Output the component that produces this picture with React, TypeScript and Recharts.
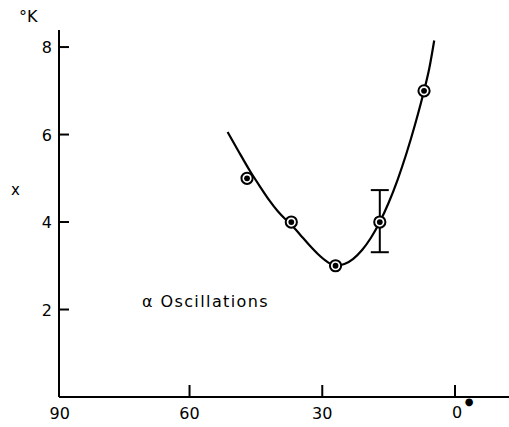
import React from "react";
import { ComposedChart, XAxis, YAxis, Line, Scatter, ErrorBar, Customized } from "recharts";

const xTicks = [90, 60, 30, 0];
const yTicks = [2, 4, 6, 8];

const pointX = [47, 37, 27, 17, 7];
const pointY = [5, 4, 3, 4, 7];

const errX = [17];
const errY = [4];
const errLow = [0.69];
const errHigh = [0.73];

const curveX = [51.4, 49, 46.3, 44, 42, 40, 38.5, 37, 35, 33, 31, 29, 27, 25, 23, 21, 19, 17, 15, 13, 11, 9, 7, 5.8, 4.7];
const curveY = [6.06, 5.63, 5.16, 4.8, 4.5, 4.24, 4.08, 3.94, 3.71, 3.48, 3.27, 3.1, 3.0, 3.04, 3.16, 3.36, 3.64, 4.0, 4.44, 4.96, 5.56, 6.24, 7.0, 7.52, 8.15];

const points = pointX.map((x, i) => ({ x, y: pointY[i] }));
const errPoints = errX.map((x, i) => ({ x, y: errY[i], err: [errLow[i], errHigh[i]] }));
const curve = curveX.map((x, i) => ({ x, y: curveY[i] }));

const FONT = "DejaVu Sans";

const XTick = (props: any) => {
  const { x, y, payload } = props;
  const v = payload.value;
  if (v === 0) {
    return (
      <g>
        <line x1={x} x2={x} y1={y} y2={y - 12} stroke="#000" strokeWidth={2} />
        <text x={x + 2} y={y + 21} textAnchor="middle" fontFamily={FONT} fontSize={16} fill="#000">
          0
        </text>
        <text x={x + 14} y={y + 8} textAnchor="middle" fontFamily={FONT} fontSize={10} fill="#000">
          ●
        </text>
      </g>
    );
  }
  return (
    <g>
      {v !== 90 && <line x1={x} x2={x} y1={y} y2={y - 12} stroke="#000" strokeWidth={2} />}
      <text x={v === 90 ? x + 3 : x} y={y + 22} textAnchor="middle" fontFamily={FONT} fontSize={16} fill="#000">
        {String(v)}
      </text>
    </g>
  );
};

const YTick = (props: any) => {
  const { x, y, payload } = props;
  return (
    <g>
      <line x1={x} x2={x + 10} y1={y} y2={y} stroke="#000" strokeWidth={2} />
      <text x={x - 7} y={y + 6} textAnchor="end" fontFamily={FONT} fontSize={16} fill="#000">
        {payload.value}
      </text>
    </g>
  );
};

const Marker = (props: any) => {
  const { cx, cy } = props;
  return (
    <g>
      <circle cx={cx} cy={cy} r={5.6} fill="#fff" stroke="#000" strokeWidth={2} />
      <circle cx={cx} cy={cy} r={2.9} fill="#000" />
    </g>
  );
};

const Labels = () => (
  <g fontFamily={FONT} fill="#000">
    <text x={19} y={22} fontSize={16}>°K</text>
    <text x={11} y={195} fontSize={15}>x</text>
    <text x={142} y={307} fontSize={16} letterSpacing={1.4}>α Oscillations</text>
  </g>
);

export default function App() {
  return (
    <div style={{ position: "absolute", left: 0, top: 0, background: "#fff" }}>
      <ComposedChart width={509} height={427} margin={{ top: 30, right: 0, bottom: 0, left: 0 }}>
        <XAxis
          type="number"
          dataKey="x"
          domain={[-12.2, 89.5]}
          reversed
          ticks={xTicks}
          interval={0}
          allowDataOverflow
          height={30}
          tickSize={0}
          tickMargin={0}
          tickLine={false}
          axisLine={{ stroke: "#000", strokeWidth: 2 }}
          tick={<XTick />}
        />
        <YAxis
          type="number"
          dataKey="y"
          domain={[0, 8.39]}
          ticks={yTicks}
          interval={0}
          allowDataOverflow
          width={59}
          tickSize={0}
          tickMargin={0}
          tickLine={false}
          axisLine={{ stroke: "#000", strokeWidth: 2 }}
          tick={<YTick />}
        />
        <Line
          data={curve}
          dataKey="y"
          type="monotone"
          stroke="#000"
          strokeWidth={2.2}
          dot={false}
          activeDot={false}
          isAnimationActive={false}
        />
        <Scatter data={errPoints} dataKey="y" shape={() => null} isAnimationActive={false}>
          <ErrorBar dataKey="err" direction="y" width={9} stroke="#000" strokeWidth={2} />
        </Scatter>
        <Scatter data={points} dataKey="y" shape={<Marker />} isAnimationActive={false} />
        <Customized component={Labels} />
      </ComposedChart>
    </div>
  );
}
